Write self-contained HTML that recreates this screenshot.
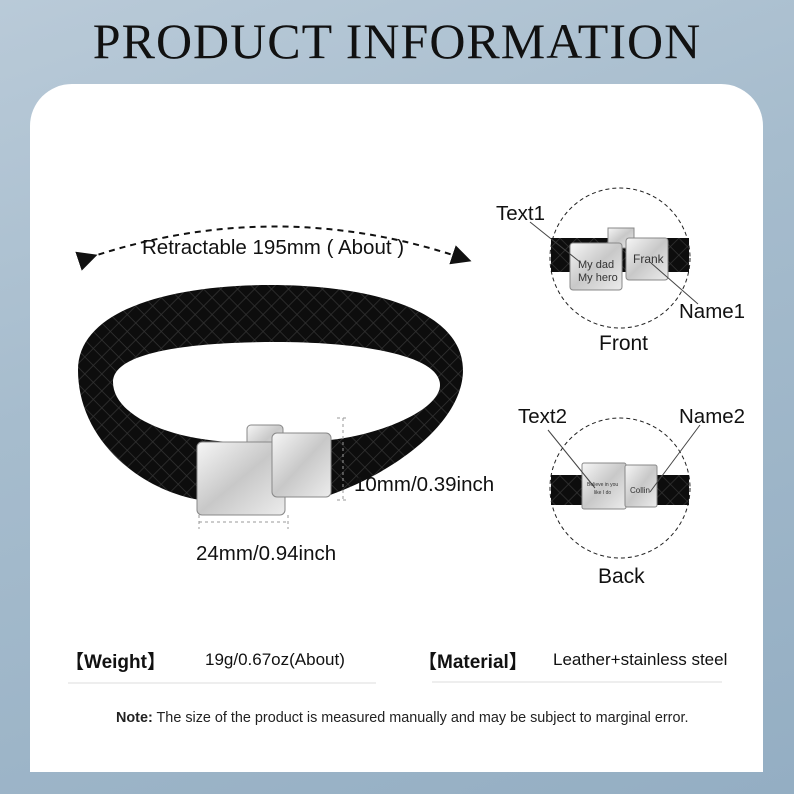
<!DOCTYPE html>
<html><head><meta charset="utf-8"><style>
html,body{margin:0;padding:0;width:794px;height:794px;overflow:hidden}
body{position:relative;background:linear-gradient(160deg,#b9cad8 0%,#a6bccd 40%,#94aec3 100%);font-family:"Liberation Sans","Noto Sans CJK SC",sans-serif;}
.title{position:absolute;top:12px;left:0;width:794px;text-align:center;font-family:"Liberation Serif",serif;font-size:50px;color:#111;letter-spacing:1px}
.card{position:absolute;left:30px;top:84px;width:733px;height:688px;background:#fff;border-radius:42px 42px 0 0}
.t{position:absolute;color:#111;white-space:nowrap}
</style></head><body>
<div class="title">PRODUCT INFORMATION</div>
<div class="card"></div>
<svg width="794" height="794" style="position:absolute;left:0;top:0">
<defs>
<marker id="ah" markerWidth="10" markerHeight="10" refX="5" refY="5" orient="auto"><path d="M0,0 L10,5 L0,10 Z" fill="#111"/></marker>
<pattern id="br" width="12" height="12" patternUnits="userSpaceOnUse" patternTransform="rotate(45)"><rect width="12" height="12" fill="#0d0d0d"/><path d="M0,0H12M0,0V12" stroke="#333" stroke-width="1.5"/></pattern>
<linearGradient id="steel" x1="0" y1="0" x2="1" y2="1"><stop offset="0" stop-color="#f6f6f6"/><stop offset=".5" stop-color="#c8c8c8"/><stop offset="1" stop-color="#ececec"/></linearGradient>
</defs>
<path d="M88,258 Q275,195 462,258" fill="none" stroke="#111" stroke-width="2" stroke-dasharray="6,5" marker-start="url(#ah)" marker-end="url(#ah)"/>
<path fill-rule="evenodd" fill="url(#br)" d="M78,370 C78,310 170,285 270,285 C370,285 463,310 463,370 C463,420 400,470 330,495 L200,500 C140,490 78,440 78,370 Z M113,382 C113,352 190,342 276,342 C360,342 440,355 440,385 C440,410 380,435 330,440 L230,442 C160,438 113,412 113,382 Z"/>
<rect x="247" y="425" width="36" height="32" rx="4" fill="url(#steel)" stroke="#888"/>
<rect x="197" y="442" width="88" height="73" rx="5" fill="url(#steel)" stroke="#888"/>
<rect x="272" y="433" width="59" height="64" rx="5" fill="url(#steel)" stroke="#888"/>
<path d="M343,418V500M337,418H349M337,500H349" stroke="#999" stroke-dasharray="3,3"/>
<path d="M199,522H288M199,515V529M288,515V529" stroke="#999" stroke-dasharray="3,3"/>
<circle cx="620" cy="258" r="70" fill="#fff" stroke="#222" stroke-dasharray="4,3"/>
<circle cx="620" cy="488" r="70" fill="#fff" stroke="#222" stroke-dasharray="4,3"/>
<rect x="551" y="238" width="138" height="34" fill="url(#br)"/>
<rect x="608" y="228" width="26" height="20" fill="url(#steel)" stroke="#888"/>
<rect x="570" y="243" width="52" height="47" rx="3" fill="url(#steel)" stroke="#888"/>
<rect x="626" y="238" width="42" height="42" rx="3" fill="url(#steel)" stroke="#888"/>
<rect x="551" y="475" width="138" height="30" fill="url(#br)"/>
<rect x="582" y="463" width="44" height="46" rx="2" fill="url(#steel)" stroke="#888"/>
<rect x="625" y="465" width="32" height="42" rx="2" fill="url(#steel)" stroke="#888"/>
<g stroke="#444" stroke-width="1"><line x1="530" y1="222" x2="580" y2="262"/><line x1="651" y1="263" x2="698" y2="304"/><line x1="548" y1="430" x2="595" y2="488"/><line x1="700" y1="425" x2="650" y2="492"/></g>
<g stroke="#ddd"><line x1="68" y1="683" x2="376" y2="683"/><line x1="432" y1="682" x2="722" y2="682"/></g>
</svg>
<div class="t" style="left:142px;top:236px;font-size:20.5px">Retractable 195mm ( About )</div>
<div class="t" style="left:354px;top:473px;font-size:20.5px">10mm/0.39inch</div>
<div class="t" style="left:196px;top:542px;font-size:20.5px">24mm/0.94inch</div>
<div class="t" style="left:496px;top:202px;font-size:20.5px">Text1</div>
<div class="t" style="left:679px;top:300px;font-size:20.5px">Name1</div>
<div class="t" style="left:599px;top:332px;font-size:21px">Front</div>
<div class="t" style="left:518px;top:405px;font-size:20.5px">Text2</div>
<div class="t" style="left:679px;top:405px;font-size:20.5px">Name2</div>
<div class="t" style="left:598px;top:565px;font-size:21px">Back</div>
<div class="t" style="left:578px;top:259px;font-size:11px;line-height:13px;color:#333">My dad<br>My hero</div>
<div class="t" style="left:633px;top:252px;font-size:12px;color:#333">Frank</div>
<div class="t" style="left:587px;top:481px;font-size:5px;line-height:8px;color:#333;text-align:center">Believe in you<br>like I do</div>
<div class="t" style="left:630px;top:486px;font-size:8px;color:#333">Collin</div>
<div class="t" style="left:65px;top:647px;font-size:19px;font-weight:bold">【Weight】</div>
<div class="t" style="left:205px;top:650px;font-size:17px">19g/0.67oz(About)</div>
<div class="t" style="left:418px;top:647px;font-size:19px;font-weight:bold">【Material】</div>
<div class="t" style="left:553px;top:650px;font-size:17px">Leather+stainless steel</div>
<div class="t" style="left:116px;top:710px;font-size:14.4px;color:#222"><b>Note:</b> The size of the product is measured manually and may be subject to marginal error.</div>
</body></html>
